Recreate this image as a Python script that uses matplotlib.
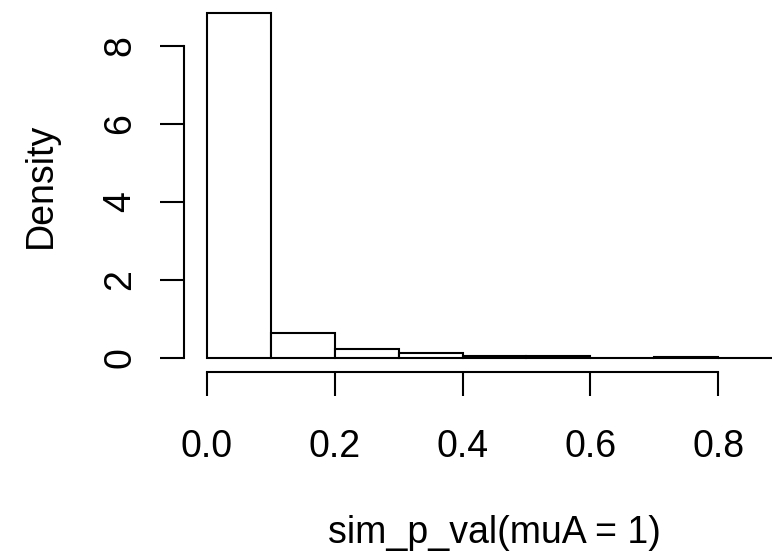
import matplotlib
matplotlib.use("Agg")
import matplotlib.pyplot as plt

# histogram of simulated p-values (density scale, bin width 0.1)
breaks = [0.0, 0.1, 0.2, 0.3, 0.4, 0.5, 0.6, 0.7, 0.8, 0.9, 1.0]
density = [8.84, 0.65, 0.24, 0.12, 0.05, 0.04, 0.01, 0.03, 0.01, 0.01]
xticks = [0.0, 0.2, 0.4, 0.6, 0.8]
yticks = [0, 2, 4, 6, 8]

plt.rcParams['font.family'] = ['Liberation Sans', 'DejaVu Sans']
FS = 27
LW = 1.5

fig = plt.figure(figsize=(7.72, 5.52), dpi=100)
W, H = 772, 552
# plot region in pixels (runs past the right edge like the original device)
left, bottom, width, height = 184, 371.8, 621, 372.3
ax = fig.add_axes([left / W, (H - bottom) / H, width / W, height / H])

ymax = max(density)
ax.set_xlim(-0.036, 0.936)
ax.set_ylim(-0.04 * ymax, 1.04 * ymax)

widths = [b - a for a, b in zip(breaks[:-1], breaks[1:])]
ax.bar(breaks[:-1], density, width=widths, align="edge",
       facecolor="white", edgecolor="black", linewidth=LW)

for s in ["top", "right"]:
    ax.spines[s].set_visible(False)
ax.spines["left"].set_bounds(yticks[0], yticks[-1])
ax.spines["bottom"].set_bounds(xticks[0], xticks[-1])
for s in ["left", "bottom"]:
    ax.spines[s].set_linewidth(LW)

ax.set_xticks(xticks)
ax.set_xticklabels(["%.1f" % v for v in xticks])
ax.set_yticks(yticks)
ax.set_yticklabels([str(v) for v in yticks], rotation=90, va="center")
ax.tick_params(axis="both", length=17, width=LW, labelsize=FS, direction="out")
ax.tick_params(axis="x", pad=24)
ax.tick_params(axis="y", pad=16)

# axis titles, centred on the plot region
cx = (left + width / 2) / W
cy = 1 - (bottom - height / 2) / H
fig.text(cx, 1 - 543 / H, "sim_p_val(muA = 1)", fontsize=FS,
         ha="center", va="baseline")
fig.text(51 / W, cy, "Density", fontsize=FS, rotation=90,
         rotation_mode="anchor", ha="center", va="baseline")

fig.savefig("out.png", dpi=100)
